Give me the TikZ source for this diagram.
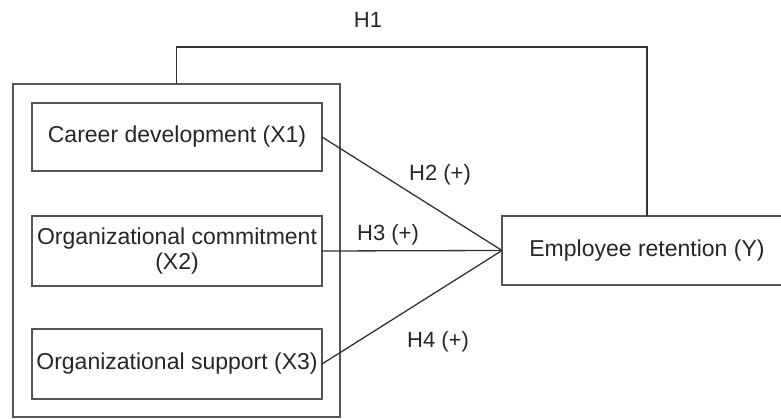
\documentclass[tikz,border=0pt]{standalone}
\usepackage{fontspec}
\setmainfont{Liberation Sans}
\definecolor{boxgray}{HTML}{555555}
\definecolor{linegray}{HTML}{333333}
\definecolor{txt}{HTML}{262626}
\begin{document}
\begin{tikzpicture}[x=1pt,y=-1pt,
  every node/.style={font=\fontsize{22}{25}\selectfont, text=txt, inner sep=0pt, outer sep=0pt},
  boxnode/.style={draw=boxgray, line width=2pt, minimum width=290pt, minimum height=70pt, align=center, font=\fontsize{23}{25}\selectfont},
  outerbox/.style={draw=boxgray, line width=2pt, minimum width=327pt, minimum height=333pt},
  conn/.style={draw=linegray, line width=1.3pt},
  lbl/.style={}]
\useasboundingbox (0,0) rectangle (781,419);
\clip (0,0) rectangle (781,419);
\node[outerbox] (outer) at (176.5,250.5) {};
\node[boxnode, minimum height=68pt] (b1) at (177,137) {Career development (X1)};
\node[boxnode] (b2) at (177,251) {Organizational commitment\\(X2)};
\node[boxnode] (b3) at (177,364) {Organizational support (X3)};
\node[boxnode, minimum height=69pt] (Y) at (647,250.5) {Employee retention (Y)};
\draw[conn] (b1.east) -- (Y.west);
\draw[conn] (b2.east) -- (Y.west);
\draw[conn] (b3.east) -- (Y.west);
\draw[conn] (outer.north) -- ++(0,-37) -| (Y.north);
\node[lbl] (h1) at (368,20) {H1};
\node[lbl] (h2) at (440,175) {H2 (+)};
\node[lbl] (h3) at (388,235) {H3 (+)};
\node[lbl] (h4) at (438,342) {H4 (+)};
\end{tikzpicture}
\end{document}
